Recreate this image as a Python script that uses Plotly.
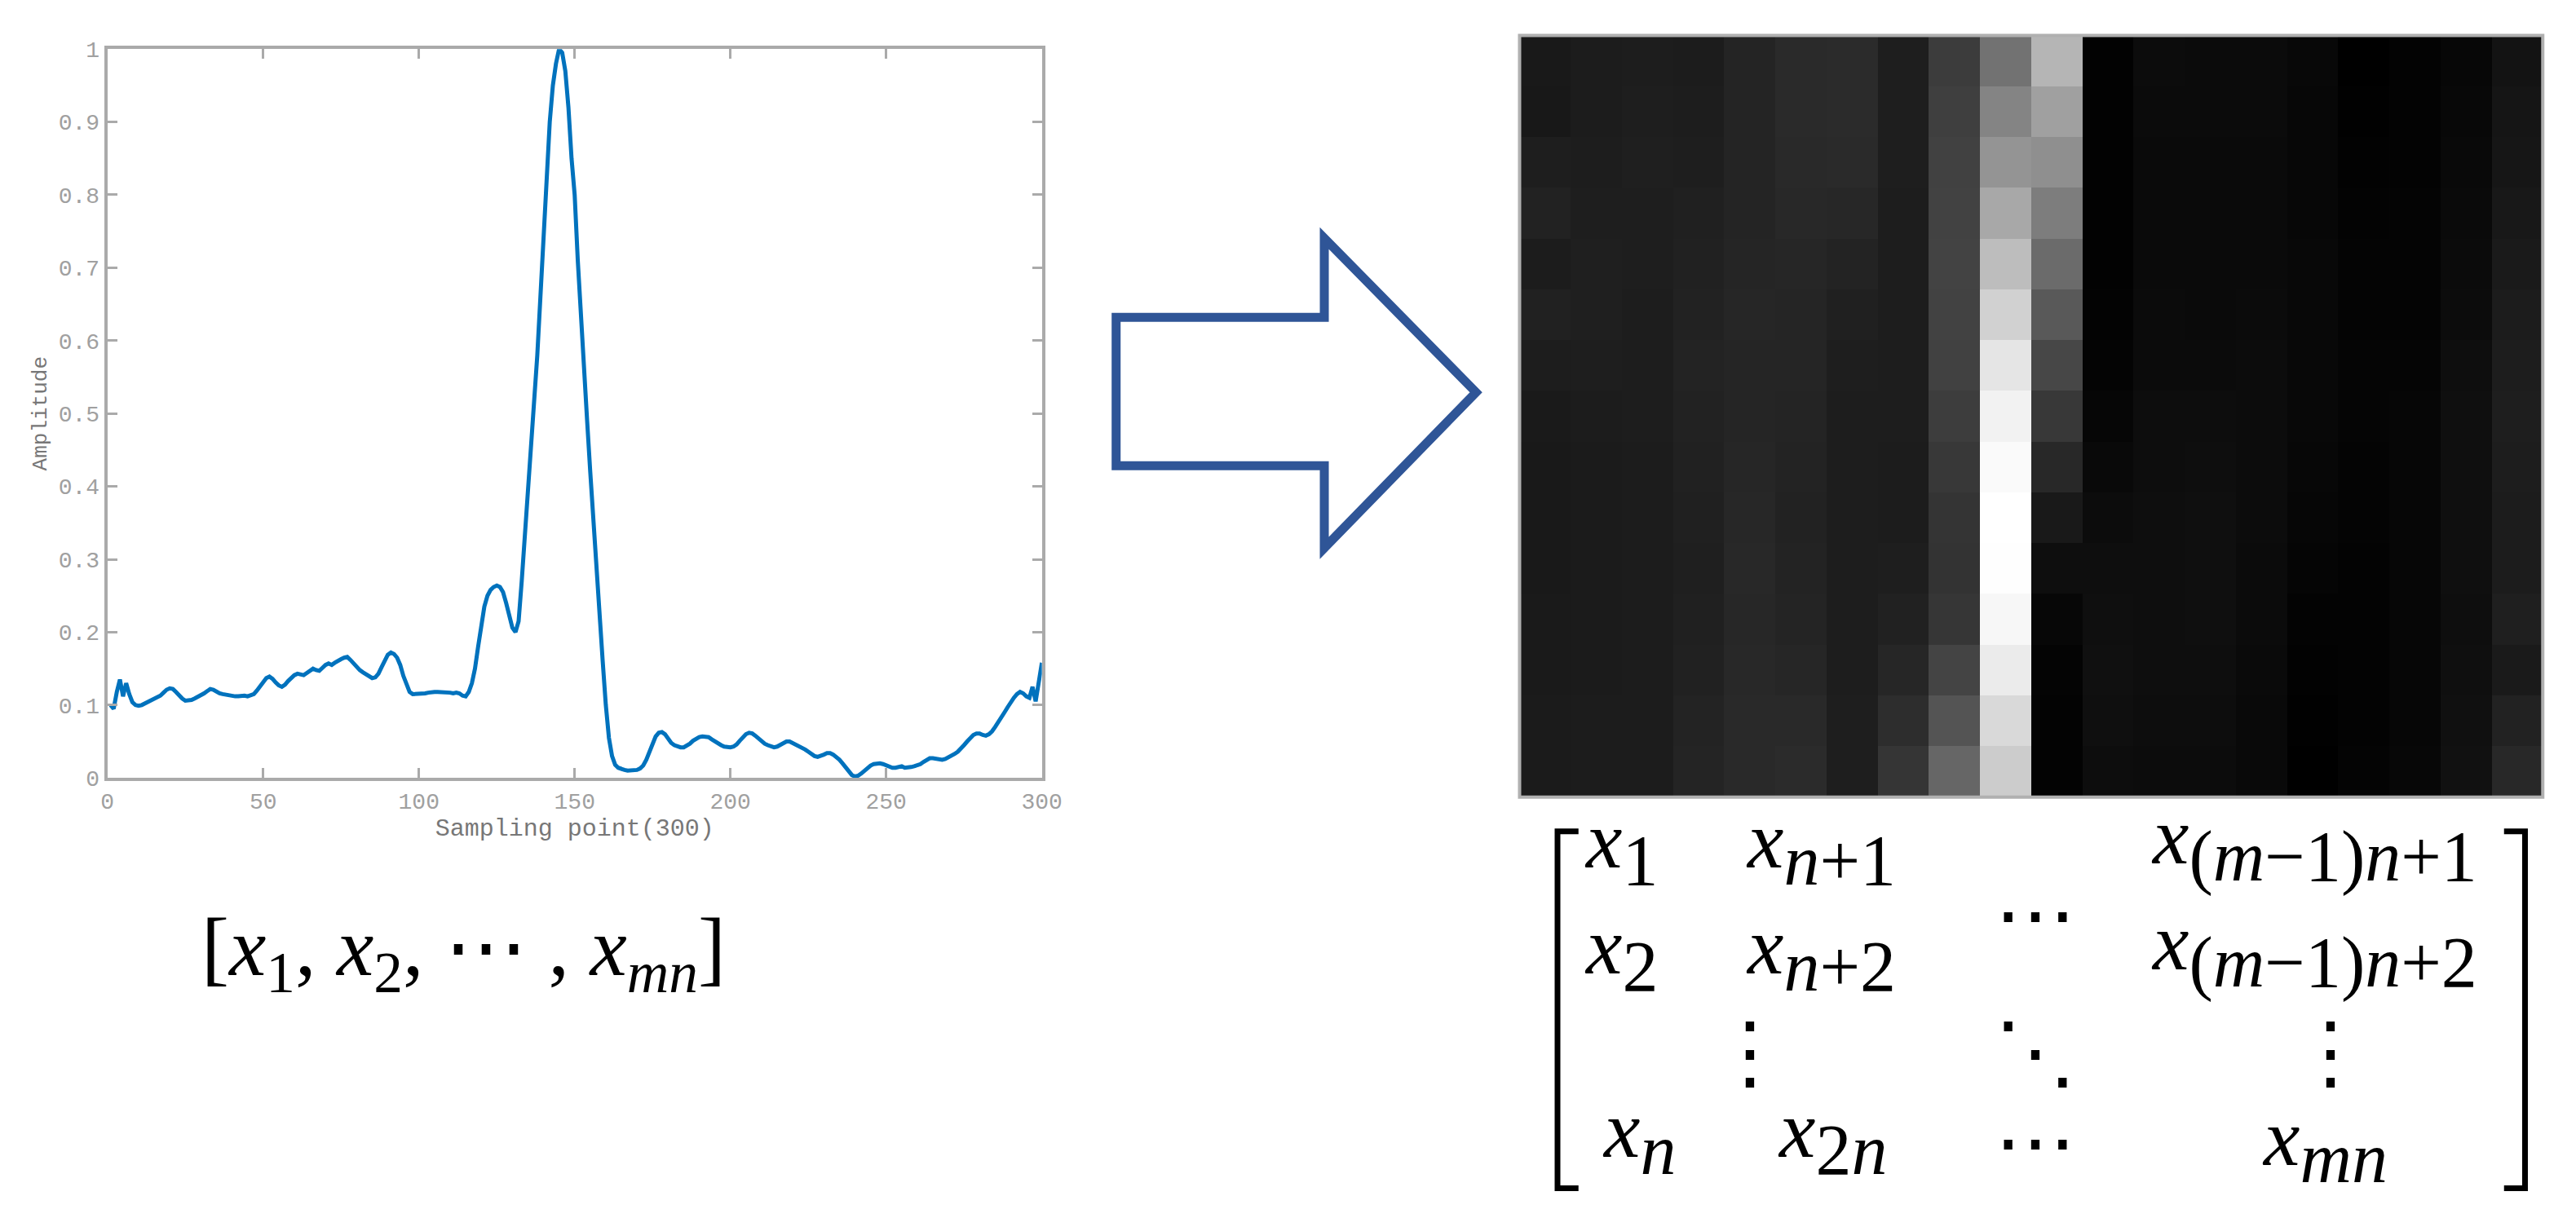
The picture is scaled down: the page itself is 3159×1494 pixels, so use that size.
import plotly.graph_objects as go

W, H = 3159, 1494
def px(x): return x / W
def py(y): return 1 - y / H

# signal: 300 samples, written as 20 groups of 15 (one group per image column)
signal = [
 0.100,0.095,0.118,0.135,0.112,0.130,0.115,0.104,0.100,0.099,0.100,0.102,0.104,0.106,0.108,
 0.110,0.113,0.117,0.121,0.123,0.122,0.118,0.113,0.109,0.106,0.106,0.107,0.109,0.111,0.113,
 0.116,0.119,0.122,0.121,0.118,0.116,0.115,0.114,0.113,0.113,0.112,0.112,0.113,0.113,0.112,
 0.113,0.115,0.120,0.126,0.132,0.137,0.139,0.136,0.131,0.127,0.125,0.128,0.133,0.138,0.141,
 0.143,0.142,0.141,0.144,0.147,0.150,0.148,0.147,0.151,0.155,0.157,0.155,0.158,0.161,0.163,
 0.165,0.166,0.162,0.157,0.152,0.148,0.145,0.142,0.139,0.137,0.138,0.143,0.152,0.162,0.169,
 0.172,0.170,0.165,0.155,0.140,0.127,0.118,0.115,0.115,0.116,0.116,0.116,0.117,0.118,0.118,
 0.118,0.118,0.118,0.117,0.117,0.116,0.117,0.116,0.113,0.112,0.118,0.130,0.150,0.180,0.210,
 0.235,0.250,0.258,0.262,0.264,0.262,0.255,0.240,0.222,0.206,0.200,0.215,0.270,0.330,0.400,
 0.450,0.520,0.580,0.660,0.740,0.820,0.900,0.950,0.980,1.000,0.995,0.970,0.920,0.850,0.800,
 0.710,0.630,0.560,0.490,0.420,0.350,0.280,0.220,0.160,0.100,0.055,0.030,0.018,0.014,0.012,
 0.011,0.010,0.010,0.010,0.011,0.013,0.017,0.025,0.036,0.048,0.057,0.062,0.063,0.060,0.054,
 0.048,0.045,0.043,0.042,0.042,0.044,0.047,0.051,0.054,0.056,0.057,0.057,0.056,0.053,0.050,
 0.047,0.045,0.043,0.042,0.042,0.043,0.046,0.051,0.056,0.060,0.062,0.061,0.058,0.054,0.050,
 0.047,0.045,0.043,0.042,0.043,0.045,0.048,0.050,0.050,0.048,0.046,0.044,0.042,0.039,0.036,
 0.033,0.030,0.029,0.030,0.032,0.034,0.034,0.032,0.029,0.025,0.020,0.014,0.008,0.004,0.002,
 0.003,0.006,0.010,0.014,0.017,0.019,0.020,0.020,0.019,0.017,0.015,0.014,0.014,0.015,0.016,
 0.014,0.014,0.015,0.016,0.017,0.019,0.022,0.025,0.027,0.027,0.026,0.025,0.025,0.026,0.028,
 0.030,0.033,0.036,0.040,0.045,0.050,0.055,0.059,0.061,0.061,0.059,0.058,0.060,0.064,0.070,
 0.076,0.083,0.090,0.097,0.104,0.110,0.115,0.118,0.116,0.112,0.110,0.125,0.105,0.135,0.158,
]
n_rows, n_cols = 15, 20
sample_idx = list(range(1, len(signal) + 1))
x_ticks = [0, 50, 100, 150, 200, 250, 300]
y_ticks = [0, 0.1, 0.2, 0.3, 0.4, 0.5, 0.6, 0.7, 0.8, 0.9, 1]
y_ticklabels = ["0", "0.1", "0.2", "0.3", "0.4", "0.5", "0.6", "0.7", "0.8", "0.9", "1"]

z = [[signal[c * n_rows + r] for c in range(n_cols)] for r in range(n_rows)]

fig = go.Figure()
fig.add_trace(go.Scatter(x=sample_idx, y=signal, mode="lines",
                         line=dict(color="#0072BD", width=5), xaxis="x", yaxis="y",
                         showlegend=False))
fig.add_trace(go.Heatmap(z=z, colorscale=[[0, "#000000"], [1, "#ffffff"]],
                         zmin=min(signal), zmax=max(signal), showscale=False,
                         xaxis="x2", yaxis="y2"))

tickfont = dict(family="Liberation Mono", size=28, color="#a0a0a0")
fig.update_layout(
    width=W, height=H, margin=dict(l=0, r=0, t=0, b=0),
    paper_bgcolor="white", plot_bgcolor="white",
    xaxis=dict(domain=[px(117), px(1275)], range=[0, 300], tickvals=x_ticks,
               ticks="inside", ticklen=12, tickwidth=3, tickcolor="#aaaaaa",
               showline=True, linecolor="#aaaaaa", linewidth=4, mirror="ticks",
               showgrid=False, zeroline=False, tickfont=tickfont,
               title=dict(text="Sampling point(300)", standoff=6,
                          font=dict(family="Liberation Mono", size=30, color="#777777"))),
    yaxis=dict(domain=[py(953), py(40)], range=[0, 1], tickvals=y_ticks,
               ticktext=y_ticklabels,
               ticks="inside", ticklen=12, tickwidth=3, tickcolor="#aaaaaa",
               showline=True, linecolor="#aaaaaa", linewidth=4, mirror="ticks",
               showgrid=False, zeroline=False, tickfont=tickfont,
               title=dict(text="Amplitude", standoff=8,
                          font=dict(family="Liberation Mono", size=26, color="#777777"))),
    xaxis2=dict(domain=[px(1867), px(3135)], anchor="y2", visible=False,
                range=[-0.5, n_cols - 0.5]),
    yaxis2=dict(domain=[py(977), py(23)], anchor="x2", visible=False,
                range=[n_rows - 0.5, -0.5]),
)

shapes = []
shapes.append(dict(type="rect", xref="paper", yref="paper", x0=px(1867), x1=px(3135),
                   y0=py(977), y1=py(23), line=dict(color="#b0b0b0", width=4)))
pts = [(1367, 376), (1625, 376), (1625, 277), (1813, 470), (1625, 665), (1625, 562), (1367, 562)]
path = "M " + " L ".join(f"{px(a)},{py(b)}" for a, b in pts) + " Z"
shapes.append(dict(type="path", xref="paper", yref="paper", path=path,
                   line=dict(color="#2F5597", width=11), fillcolor="white"))
bt, bb, tk = 1020, 1467, 26
for xb, d in [(1914, 1), (3113, -1)]:
    p = f"M {px(xb + d*tk)},{py(bt)} L {px(xb)},{py(bt)} L {px(xb)},{py(bb)} L {px(xb + d*tk)},{py(bb)}"
    shapes.append(dict(type="path", xref="paper", yref="paper", path=p,
                       line=dict(color="black", width=7)))
fig.update_layout(shapes=shapes)

def ann(text, x, y, xanchor="left", size=100):
    fig.add_annotation(text=text, x=px(x), y=py(y), xref="paper", yref="paper",
                       xanchor=xanchor, yanchor="middle", showarrow=False,
                       font=dict(family="Liberation Serif", size=size, color="black"))

X = "<i>x</i>"
def S(t):
    return f"<sub><span style='font-size:88px'>{t}</span></sub>"

ann(f"[{X}<sub>1</sub>, {X}<sub>2</sub>, ⋯ , {X}<sub><i>mn</i></sub>]", 558, 1172, "center", 102)
ann(f"{X}{S('1')}", 1945, 1040)
ann(f"{X}{S('<i>n</i>+1')}", 2145, 1040)
ann("⋯", 2506, 1125, "center")
ann(f"{X}{S('(<i>m</i>−1)<i>n</i>+1')}", 2648, 1035)
ann(f"{X}{S('2')}", 1945, 1173)
ann(f"{X}{S('<i>n</i>+2')}", 2145, 1173)
ann(f"{X}{S('(<i>m</i>−1)<i>n</i>+2')}", 2648, 1168)
ann("⋮", 2152, 1297, "center")
ann("⋱", 2506, 1297, "center")
ann("⋮", 2872, 1297, "center")
ann(f"{X}{S('<i>n</i>')}", 1968, 1403)
ann(f"{X}{S('2<i>n</i>')}", 2185, 1403)
ann("⋯", 2506, 1410, "center")
ann(f"{X}{S('<i>mn</i>')}", 2785, 1413)

fig.write_html("out.html")
